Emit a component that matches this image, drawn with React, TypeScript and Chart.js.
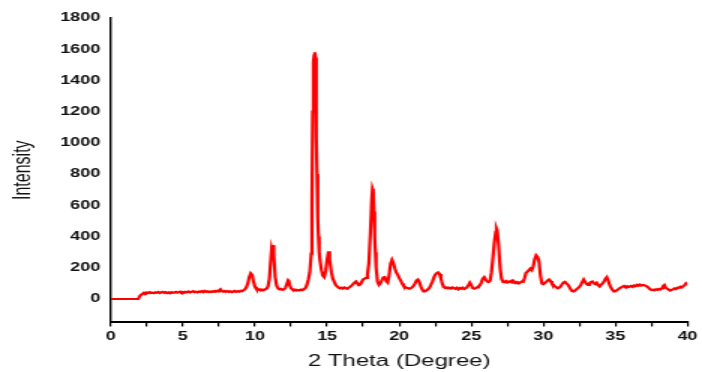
import React, { useEffect, useRef } from "react";
import { Chart, registerables } from "chart.js";

Chart.register(...registerables);

// 2θ positions (degrees)
const twoTheta: number[] = [
  0, 1.9, 2.0, 2.1, 2.2, 2.3, 2.4, 2.5, 2.6, 2.7,
  2.8, 2.9, 3.0, 3.1, 3.2, 3.3, 3.4, 3.5, 3.6, 3.7,
  3.8, 3.9, 4.0, 4.1, 4.2, 4.3, 4.4, 4.5, 4.6, 4.7,
  4.8, 4.9, 5.0, 5.1, 5.2, 5.3, 5.4, 5.5, 5.6, 5.7,
  5.8, 5.9, 6.0, 6.1, 6.2, 6.3, 6.4, 6.5, 6.6, 6.7,
  6.8, 6.9, 7.0, 7.1, 7.2, 7.3, 7.4, 7.5, 7.6, 7.7,
  7.8, 7.9, 8.0, 8.1, 8.2, 8.3, 8.4, 8.5, 8.6, 8.7,
  8.8, 8.9, 9.0, 9.1, 9.2, 9.3, 9.4, 9.5, 9.6, 9.7,
  9.8, 9.9, 10.0, 10.1, 10.2, 10.3, 10.4, 10.5, 10.6, 10.7,
  10.8, 10.9, 11.0, 11.1, 11.15, 11.2, 11.25, 11.3, 11.4, 11.5,
  11.6, 11.7, 11.8, 11.9, 12.0, 12.1, 12.2, 12.3, 12.35, 12.4,
  12.5, 12.6, 12.7, 12.8, 12.9, 13.0, 13.1, 13.2, 13.3, 13.4,
  13.5, 13.6, 13.7, 13.8, 13.9, 13.95, 14.0, 14.05, 14.1, 14.15,
  14.2, 14.25, 14.3, 14.35, 14.4, 14.45, 14.5, 14.6, 14.7, 14.8,
  14.9, 15.0, 15.1, 15.15, 15.2, 15.3, 15.4, 15.5, 15.6, 15.7,
  15.8, 15.9, 16.0, 16.1, 16.2, 16.3, 16.4, 16.5, 16.6, 16.7,
  16.8, 16.9, 17.0, 17.1, 17.2, 17.3, 17.4, 17.5, 17.6, 17.7,
  17.8, 17.9, 18.0, 18.1, 18.15, 18.2, 18.25, 18.3, 18.35, 18.4,
  18.5, 18.6, 18.7, 18.8, 18.9, 19.0, 19.1, 19.2, 19.3, 19.4,
  19.5, 19.6, 19.7, 19.8, 19.9, 20.0, 20.1, 20.2, 20.3, 20.4,
  20.5, 20.6, 20.7, 20.8, 20.9, 21.0, 21.1, 21.2, 21.3, 21.4,
  21.5, 21.6, 21.7, 21.8, 21.9, 22.0, 22.1, 22.2, 22.3, 22.4,
  22.5, 22.6, 22.7, 22.8, 22.9, 23.0, 23.1, 23.2, 23.3, 23.4,
  23.5, 23.6, 23.7, 23.8, 23.9, 24.0, 24.1, 24.2, 24.3, 24.4,
  24.5, 24.6, 24.7, 24.8, 24.9, 25.0, 25.1, 25.2, 25.3, 25.4,
  25.5, 25.6, 25.7, 25.8, 25.9, 26.0, 26.1, 26.2, 26.3, 26.4,
  26.5, 26.6, 26.7, 26.75, 26.8, 26.9, 27.0, 27.1, 27.2, 27.3,
  27.4, 27.5, 27.6, 27.7, 27.8, 27.9, 28.0, 28.1, 28.2, 28.3,
  28.4, 28.5, 28.6, 28.7, 28.8, 28.9, 29.0, 29.1, 29.2, 29.3,
  29.4, 29.5, 29.6, 29.7, 29.8, 29.9, 30.0, 30.1, 30.2, 30.3,
  30.4, 30.5, 30.6, 30.7, 30.8, 30.9, 31.0, 31.1, 31.2, 31.3,
  31.4, 31.5, 31.6, 31.7, 31.8, 31.9, 32.0, 32.1, 32.2, 32.3,
  32.4, 32.5, 32.6, 32.7, 32.8, 32.9, 33.0, 33.1, 33.2, 33.3,
  33.4, 33.5, 33.6, 33.7, 33.8, 33.9, 34.0, 34.1, 34.2, 34.3,
  34.4, 34.5, 34.6, 34.7, 34.8, 34.9, 35.0, 35.1, 35.2, 35.3,
  35.4, 35.5, 35.6, 35.7, 35.8, 35.9, 36.0, 36.1, 36.2, 36.3,
  36.4, 36.5, 36.6, 36.7, 36.8, 36.9, 37.0, 37.1, 37.2, 37.3,
  37.4, 37.5, 37.6, 37.7, 37.8, 37.9, 38.0, 38.1, 38.2, 38.3,
  38.4, 38.5, 38.6, 38.7, 38.8, 38.9, 39.0, 39.1, 39.2, 39.3,
  39.4, 39.5, 39.6, 39.7, 39.8, 39.9, 40.0,
];

// Intensity (counts)
const intensity: number[] = [
  0, 0, 18, 28, 34, 40, 36, 42, 38, 44,
  39, 41, 37, 43, 40, 45, 38, 42, 46, 40,
  44, 38, 42, 37, 43, 39, 41, 45, 40, 44,
  47, 41, 45, 40, 46, 43, 48, 42, 46, 50,
  44, 47, 43, 48, 45, 50, 44, 52, 46, 49,
  44, 48, 45, 50, 46, 52, 48, 55, 62, 50,
  47, 52, 46, 50, 45, 49, 44, 48, 52, 46,
  50, 47, 53, 50, 56, 62, 75, 100, 140, 165,
  155, 110, 78, 64, 58, 62, 55, 60, 56, 62,
  66, 80, 130, 260, 320, 300, 345, 280, 140, 85,
  68, 62, 65, 58, 62, 70, 95, 120, 115, 90,
  68, 60, 55, 60, 54, 58, 55, 60, 57, 63,
  70, 90, 125, 170, 290, 600, 1200, 1520, 1560, 1580,
  1545, 1030, 800, 520, 400, 300, 250, 190, 150, 140,
  180, 250, 305, 290, 250, 170, 130, 110, 90, 80,
  72, 68, 72, 66, 74, 70, 65, 72, 78, 85,
  95, 105, 112, 100, 88, 92, 110, 125, 130, 135,
  160, 230, 420, 640, 705, 690, 560, 400, 300, 200,
  110, 90, 100, 120, 138, 140, 115, 105, 150, 225,
  250, 230, 195, 170, 155, 135, 120, 100, 85, 78,
  72, 70, 66, 68, 75, 85, 100, 118, 125, 110,
  80, 60, 48, 50, 55, 62, 72, 90, 110, 135,
  155, 165, 170, 160, 130, 95, 78, 70, 74, 68,
  72, 66, 74, 70, 65, 72, 62, 70, 66, 72,
  64, 68, 75, 88, 104, 90, 70, 66, 70, 75,
  80, 88, 105, 130, 140, 125, 112, 108, 115, 170,
  260, 360, 430, 452, 440, 340, 200, 130, 110, 108,
  115, 106, 112, 108, 116, 104, 110, 102, 108, 100,
  106, 112, 110, 135, 168, 175, 185, 195, 185, 210,
  255, 280, 270, 240, 150, 100, 95, 102, 110, 118,
  125, 115, 98, 90, 82, 75, 68, 72, 80, 95,
  105, 110, 100, 92, 78, 62, 50, 48, 55, 62,
  70, 78, 90, 108, 125, 110, 95, 90, 100, 108,
  112, 100, 95, 104, 88, 80, 92, 98, 110, 128,
  140, 118, 90, 72, 58, 48, 50, 56, 62, 70,
  74, 80, 84, 78, 82, 76, 80, 84, 78, 86,
  82, 90, 85, 92, 86, 90, 88, 84, 80, 72,
  62, 58, 60, 56, 62, 58, 64, 60, 68, 82,
  90, 72, 66, 60, 54, 58, 62, 68, 64, 72,
  70, 78, 74, 82, 88, 100, 92,
];

const xLabelStep = 5;
const xTickStep = 2.5;
const yTickStep = 200;
const xRange = [0, 40];
const yRange = [-150, 1800];

const FONT = "'Liberation Sans', Arial, Helvetica, sans-serif";

export default function App() {
  const canvasRef = useRef<HTMLCanvasElement>(null);

  useEffect(() => {
    if (!canvasRef.current) return;
    const points = twoTheta.map((x, i) => ({ x, y: intensity[i] }));
    const chart = new Chart(canvasRef.current, {
      type: "line",
      data: {
        datasets: [
          {
            data: points,
            borderColor: "#ff0000",
            borderWidth: 2.2,
            pointRadius: 0,
            tension: 0,
            fill: false,
          },
        ],
      },
      options: {
        animation: false,
        responsive: true,
        maintainAspectRatio: false,
        layout: { padding: { left: 2, right: 8.7, top: 18, bottom: 0 } },
        plugins: { legend: { display: false }, tooltip: { enabled: false } },
        scales: {
          x: {
            type: "linear",
            min: xRange[0],
            max: xRange[1],
            ticks: {
              stepSize: xTickStep,
              autoSkip: false,
              maxRotation: 0,
              padding: 3,
              color: "#111",
              font: { family: FONT, size: 12, weight: "bold" },
              callback: (v: any) => (Number(v) % xLabelStep === 0 ? String(v) : ""),
            },
            grid: {
              drawOnChartArea: false,
              drawTicks: true,
              tickLength: 4,
              color: "#000",
              lineWidth: 1.2,
            },
            border: { color: "#000", width: 2 },
            title: {
              display: true,
              text: "2 Theta (Degree)",
              color: "#111",
              font: { family: FONT, size: 16 },
              padding: { top: 5, bottom: 1 },
            },
          },
          y: {
            min: yRange[0],
            max: yRange[1],
            afterBuildTicks: (s: any) => {
              s.ticks = s.ticks.filter((t: any) => t.value >= 0);
            },
            ticks: {
              stepSize: yTickStep,
              padding: 7,
              color: "#111",
              font: { family: FONT, size: 12, weight: "bold" },
              callback: (v: any) => String(v),
            },
            grid: { display: false, drawTicks: false },
            border: { color: "#000", width: 1.4 },
            title: {
              display: true,
              text: "Intensity",
              color: "#111",
              font: { family: FONT, size: 16 },
              padding: { top: 4, bottom: 8 },
            },
          },
        },
      },
    });
    return () => chart.destroy();
  }, []);

  return (
    <div
      style={{
        position: "absolute",
        left: 0,
        top: 0,
        width: 468,
        height: 372,
        transform: "scaleX(1.5)",
        transformOrigin: "0 0",
      }}
    >
      <canvas ref={canvasRef} />
    </div>
  );
}
